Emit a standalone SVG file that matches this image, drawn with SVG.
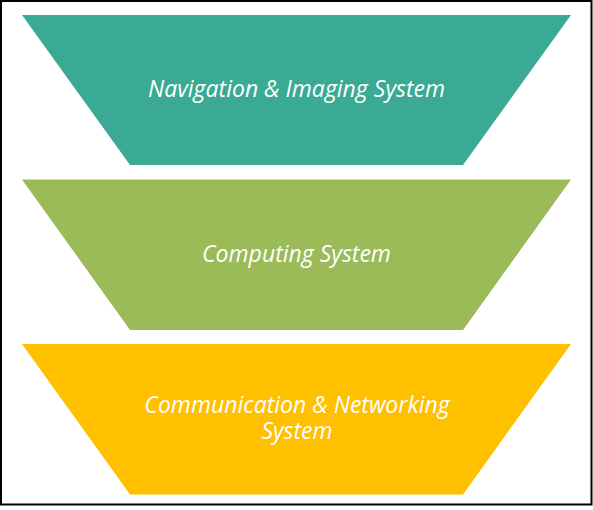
<svg xmlns="http://www.w3.org/2000/svg" width="593" height="510" viewBox="0 0 593 510">
<style>
.t{font-family:"Open Sans","Liberation Sans",sans-serif;font-style:italic;font-size:23px;fill:#fff;text-anchor:middle}
</style>
<rect x="0" y="0" width="593" height="510" fill="#fff"/>
<rect x="1" y="1" width="590.5" height="503.5" fill="none" stroke="#000" stroke-width="2"/>
<g id="node1">
<polygon points="22,15 571,15 463,165 130,165" fill="#3AAA94"/>
<text class="t" x="296.5" y="97">Navigation &amp; Imaging System</text>
</g>
<g id="node2">
<polygon points="22,179.5 571,179.5 463,330 130,330" fill="#9BBB59"/>
<text class="t" x="296.5" y="262">Computing System</text>
</g>
<g id="node3">
<polygon points="22,344 571,344 463,494.5 130,494.5" fill="#FFC000"/>
<text class="t" x="297" y="413">Communication &amp; Networking<tspan x="297" dy="26">System</tspan></text>
</g>
<g id="connectors"/>
</svg>
